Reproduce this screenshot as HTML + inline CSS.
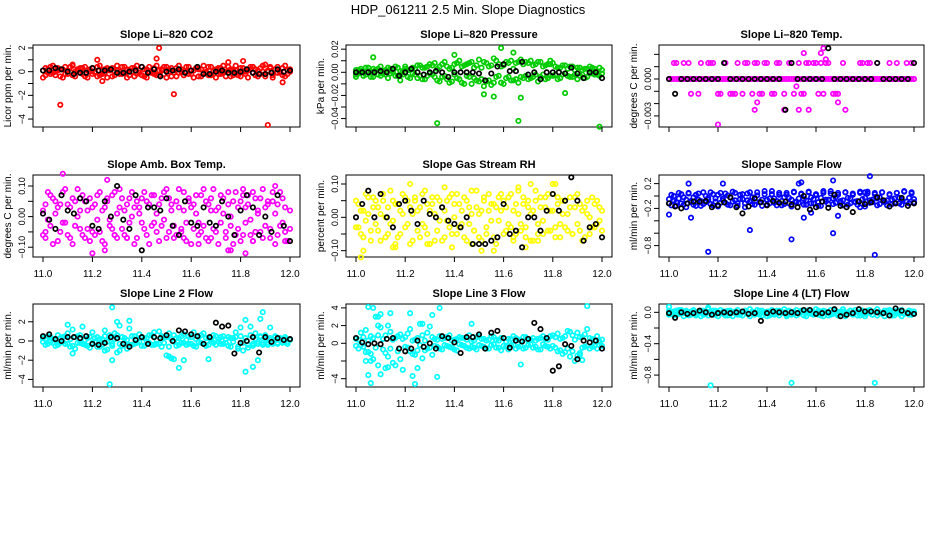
<!DOCTYPE html>
<html><head><meta charset="utf-8"><style>
html,body{margin:0;padding:0;background:#fff;}
svg{display:block;font-family:"Liberation Sans",sans-serif;}
</style></head><body>
<svg id="chart" width="936" height="540" viewBox="0 0 936 540">
<text x="468" y="14" text-anchor="middle" font-size="13">HDP_061211  2.5 Min. Slope Diagnostics</text>
</svg>
<script>
// ---- data (x is hour index 11.0 to 12.0) ----
const xTicks = [11.0, 11.2, 11.4, 11.6, 11.8, 12.0];
const xTickLabels = ["11.0", "11.2", "11.4", "11.6", "11.8", "12.0"];

const co2A = [.1,-.3,.2,.4,-.1,0,.3,-.4,.2,-.2,.1,.4,-.3,0,.2,-.1,.3,-.4,.1,.2,-.2,0,.4,-.3,.1,-.1,.3,.2,-.4,0,.1,-.2,.4,-.1,.2,-.3,0,.3,-.2,.1,.4,-.4,.2,0,-.1,.3,-.3,.1,.2,-.2,.4,0,-.4,.1,.3,-.1,.2,-.3,0,.4,-.2,.1,.3,-.4,.2,-.1,0,.4,-.3,.1,.2,-.2,.3,-.1,0,.4,-.4,.2,.1,-.3,.3,0,-.2,.1,.4,-.1,.2,-.4,.3,0,-.2,.1,.4,-.3,.2,-.1,0,.3,-.4,.1,.2];
const co2B = [-.5,.3,-.1,-.2,.5,-.3,.1,.2,-.5,.4,-.2,0,.5,-.4,.1,.3,-.2,.4,-.5,0,.3,-.1,-.4,.5,-.2,.2,-.5,.1,.3,-.3,.5,0,-.2,.4,-.5,.1,.3,-.4,.5,-.1,-.3,.2,-.5,.4,0,-.2,.5,-.3,.1,.4,-.5,.2,.3,-.1,-.4,.5,0,-.3,.4,-.2,.1,-.5,.3,.2,-.4,.5,-.1,-.3,.4,0,-.5,.3,-.2,.5,-.4,.1,.2,-.3,.5,-.1,-.4,.3,0,-.5,.2,.4,-.3,.1,-.2,.5,-.4,0,.3,-.5,.2,.4,-.1,-.3,.5,-.2,0];
const co2OutX = [11.07,11.46,11.47,11.53,11.91,11.22,11.12,11.90,11.81,11.97,11.75,11.24];
const co2OutY = [-2.8,1.1,2.0,-1.9,-4.5,1.0,0.6,0.6,0.9,-0.9,0.8,-0.8];
const co2Blk = [.1,.1,.3,.2,0,-.2,-.1,-.1,.3,.1,.1,.2,-.1,-.1,0,.1,.4,-.1,.2,-.4,0,.1,.2,-.1,.1,.4,-.2,-.2,0,.1,-.1,-.1,0,.2,-.1,-.2,-.2,-.1,.2,0,.1];

const presA = [-.002,.002,.001,-.003,.004,0,-.004,.003,.001,-.002,.005,-.001,.002,-.005,.003,0,-.003,.004,-.002,.001,.005,-.004,.002,-.001,.003,-.005,.006,-.006,.004,-.003,.007,-.002,.008,-.007,.005,-.004,.009,-.006,.003,-.008,.007,-.005,.01,-.009,.006,-.003,.008,-.01,.004,-.007,.011,-.006,.009,-.008,.005,-.011,.012,-.004,.007,-.009,.006,-.005,.008,-.007,.003,-.006,.009,-.004,.007,-.003,.008,-.005,.006,-.002,.009,-.004,.005,-.006,.007,-.003,.008,-.002,.004,-.005,.006,-.001,.003,-.004,.005,-.002,.004,-.003,.002,-.005,.003,-.001,.004,-.002,.001,-.003,.002];
const presB = [.002,-.001,.003,.001,-.002,.004,.001,-.004,.002,.003,-.003,.001,-.002,.004,-.001,.002,.005,-.003,.001,-.002,.003,.002,-.005,.004,-.002,.006,-.003,.004,-.006,.005,-.001,.006,-.004,.003,-.008,.007,-.003,.005,-.009,.004,-.002,.008,-.006,.005,-.01,.007,-.004,.009,-.005,.006,-.008,.004,-.012,.008,-.007,.006,-.009,.01,-.003,.005,-.01,.009,-.004,.01,-.007,.008,-.009,.011,-.005,.009,-.006,.01,-.004,.007,-.008,.009,-.002,.006,-.005,.007,-.003,.005,-.006,.004,-.002,.006,-.003,.005,-.004,.002,-.006,.004,-.002,.003,-.004,.005,-.001,.003,-.002,.004,-.001];
const presOutX = [11.0,11.07,11.33,11.66,11.59,11.52,11.56,11.67,11.99,11.85,11.40,11.79,11.02,11.18,11.64];
const presOutY = [-.004,.013,-.044,-.042,.021,-.019,-.021,-.022,-.047,-.018,.015,.010,.0,-.007,.017];
const presBlk = [0,0,0,0,.001,0,.003,-.003,0,.003,0,-.002,0,.001,0,-.004,0,0,0,0,-.001,-.007,-.001,.005,.007,.001,.001,.009,-.002,0,-.006,0,0,0,-.001,.004,-.001,-.005,0,0,-.005];

const tempA = [0,0,0,0,0,0,0,0,0,0,0,0,0,0,0,0,0,0,0,0,0,0,0,0,0,0,0,0,0,0,0,0,0,0,0,0,0,0,0,0,0,0,0,0,0,0,0,0,0,0,0,0,0,0,0,0,0,0,0,0,0,0,0,0,0,0,0,0,0,0,0,0,0,0,0,0,0,0,0,0,0,0,0,0,0,0,0,0,0,0,0,0,0,0,0,0,0,0,0,0,0];
const tempB = [0,0,.0013,.0013,0,0,.0013,0,.0013,-.0012,0,0,-.0012,.0013,0,0,.0013,.0013,.0013,0,-.0012,-.0012,0,.0013,0,-.0012,-.0012,-.0012,.0013,0,-.0012,.0013,.0013,0,-.0012,.0013,.0013,-.0012,-.0012,.0013,.0013,0,-.0012,-.0012,.0013,.0013,0,-.0012,0,.0013,.0013,-.0012,0,.0013,-.0012,-.0012,.0013,.0013,0,.0013,.0013,-.0012,.0013,-.0012,.0013,.0013,0,-.0012,-.0012,-.0012,0,.0013,0,0,0,0,0,0,.0013,.0013,0,.0013,.0013,0,0,.0013,0,0,0,0,.0013,0,0,.0013,0,0,0,.0013,0,.0013,0];
const tempOutX = [11.20,11.35,11.36,11.47,11.53,11.55,11.57,11.62,11.63,11.69,11.72,11.64,11.52];
const tempOutY = [-.0037,-.0025,-.0019,-.0025,-.0025,.0021,-.0025,.0021,.0025,-.0019,-.0025,.0016,-.0006];
const tempBlk = [0,-.0012,0,0,0,0,0,0,0,.0013,0,0,0,0,0,0,0,0,0,-.0025,.0013,0,0,0,0,0,.0025,0,0,0,0,0,0,0,.0013,0,0,0,0,0,.0013];

const ambA = [.02,-.05,.08,-.03,.06,.01,-.08,.04,-.02,.09,-.06,.03,-.09,.05,.0,-.04,.07,-.07,.02,.06,-.05,.04,-.01,.08,-.08,.03,.05,-.03,.07,-.06,.01,.09,-.04,.02,-.07,.06,.0,-.09,.05,.03,-.02,.08,-.06,.04,-.03,.07,.01,-.08,.06,-.01,.09,-.05,.02,-.07,.05,.03,-.04,.08,-.02,.06,-.09,.04,.01,-.06,.07,-.03,.05,-.08,.02,.09,-.05,.03,-.02,.06,-.07,.04,.0,-.09,.08,-.04,.05,-.06,.03,.07,-.01,-.08,.06,.02,-.05,.09,-.03,.04,-.07,.05,.01,-.06,.08,-.02,.03,-.08,.02];
const ambB = [-.06,.04,-.01,.07,-.09,.05,.03,-.05,.08,-.02,.04,-.07,.06,-.03,.09,.02,-.06,.05,-.04,-.08,.03,-.06,.07,-.05,.02,-.09,.06,-.01,-.04,.08,-.07,.03,.06,-.06,.04,-.02,.08,.03,-.07,.01,.06,-.04,.05,-.09,.07,-.02,-.05,.04,-.03,.08,-.07,.06,.04,-.03,-.06,.09,-.05,.02,-.08,.05,.03,-.04,.07,-.02,-.05,.09,-.07,.04,.06,-.04,.02,-.09,.07,.01,-.05,.08,-.03,.05,-.06,.03,-.08,.07,-.02,.04,-.06,.08,-.05,.01,.06,-.07,.03,.05,-.04,.08,-.09,.04,-.03,.06,-.05,-.08,-.04];
const ambOutX = [11.08,11.20,11.25,11.26,11.29,11.34,11.57,11.63,11.75,11.76,11.81,11.82,11.85,11.94,11.98,11.01,11.68];
const ambOutY = [.14,-.12,-.11,.12,-.06,-.07,-.07,-.09,-.11,-.11,.09,-.12,-.08,.1,-.08,-.07,-.07];
const ambBlk = [.01,-.01,-.04,.07,.02,.01,.06,.05,-.03,-.04,.05,.0,.1,-.01,-.04,.07,-.11,.03,.03,.02,.06,-.03,-.06,.05,-.02,-.03,.03,-.02,-.03,.05,.0,-.06,.02,.07,.03,-.06,.0,-.05,.07,-.03,-.08];

const rhA = [.05,-.03,.02,-.06,.07,.01,-.04,.06,-.02,.03,-.07,.05,.0,-.05,.08,-.01,.04,-.06,.02,.07,-.03,.05,-.08,.01,.06,-.04,.03,-.02,.08,-.05,.02,.04,-.07,.06,-.01,.03,-.06,.05,-.03,.07,.0,-.05,.04,-.02,.06,-.07,.03,.01,-.04,.08,-.06,.02,.05,-.03,.07,-.01,.04,-.08,.06,.02,-.05,.03,-.02,.07,-.06,.04,.01,-.04,.06,-.03,.05,-.07,.02,.08,-.05,.03,-.01,.06,-.04,.02,.07,-.06,.04,-.02,.05,-.03,.01,.06,-.05,.03,.07,-.04,.02,-.06,.05,.0,-.03,.04,-.02,.03,-.04];
const rhB = [-.03,.04,-.05,.02,-.01,.06,-.07,.03,.05,-.04,.01,.07,-.06,.03,-.02,.05,-.08,.04,-.05,.01,.06,-.02,.03,-.07,.05,.02,-.06,.07,-.03,.04,-.08,.06,.01,-.04,.05,-.07,.02,-.01,.06,-.05,.04,.07,-.03,.02,-.06,.05,-.02,.08,-.04,.03,.01,-.07,.06,-.05,.02,.04,-.06,.03,-.01,.07,.05,-.04,.06,-.03,.02,-.05,.08,-.02,.04,-.06,.03,.01,-.07,.05,-.02,.06,-.05,.03,.07,-.04,.02,-.03,.06,-.06,.01,.05,-.04,.03,-.05,.06,-.02,.04,-.07,.03,.01,-.05,.06,-.03,.05,-.01,.02];
const rhOutX = [11.02,11.03,11.15,11.16,11.22,11.29,11.39,11.47,11.51,11.56,11.66,11.69,11.71,11.74,11.80,11.81,11.30,11.36,11.64];
const rhOutY = [-.12,-.1,-.09,-.09,.1,-.08,-.09,-.08,-.1,-.1,.09,-.09,.1,-.07,.1,.1,-.08,.09,-.07];
const rhBlk = [.0,.04,.08,.0,.07,.0,-.03,.04,.05,.02,-.02,.05,.01,.0,.03,-.01,-.02,-.03,.0,-.08,-.08,-.08,-.07,-.06,.04,-.05,-.04,-.09,.0,.0,-.04,.02,.07,.02,.05,.12,.05,-.07,-.03,-.02,-.06];

const flowA = [-.05,-.15,.0,-.1,.05,-.12,-.02,-.18,.04,-.08,-.14,.02,-.06,-.16,.06,-.1,-.03,-.13,.03,-.09,-.17,.05,-.04,-.11,.01,-.15,.07,-.07,-.12,.02,-.05,-.18,.04,-.09,-.02,-.14,.06,-.1,-.16,.03,-.06,-.12,.08,-.04,-.15,.02,-.08,-.13,.05,-.03,-.17,.06,-.09,-.11,.04,-.05,-.14,.07,-.02,-.12,.03,-.1,-.16,.05,-.06,-.13,.08,-.04,-.11,.02,-.08,-.15,.06,-.03,-.12,.04,-.09,-.14,.05,-.05,-.17,.07,-.07,-.1,.03,-.04,-.13,.06,-.08,-.15,.02,-.06,-.11,.05,-.03,-.14,.07,-.09,-.12,.04,-.05];
const flowB = [-.12,.02,-.08,-.16,-.04,.03,-.14,-.06,.05,-.1,-.02,-.16,.04,-.08,-.13,.0,-.06,.06,-.15,-.04,.02,-.11,-.07,.04,-.14,-.02,-.09,.05,-.16,-.05,.03,-.12,-.07,.06,-.13,-.03,.01,-.1,-.06,.08,-.14,-.04,.03,-.11,-.08,.05,-.15,-.02,.02,-.12,-.06,.07,-.1,-.04,.03,-.14,-.07,.06,-.12,-.05,.01,-.16,-.03,.08,-.09,-.06,.04,-.13,-.02,.05,-.11,-.07,.06,-.14,-.04,.02,-.1,-.08,.07,-.13,-.03,.04,-.11,-.06,.05,-.15,-.02,.06,-.1,-.07,.03,-.13,-.04,.05,-.12,-.06,.08,-.09,-.03,.06,-.1];
const flowOutX = [11.16,11.84,11.50,11.33,11.67,11.82,11.67,11.08,11.22,11.54,11.00,11.55,11.09,11.53,11.58,11.78,11.80,11.69];
const flowOutY = [-.9,-.95,-.7,-.55,-.6,.32,.25,.2,.2,.22,-.3,-.35,-.35,.2,-.27,-.18,.06,-.32];
const flowBlk = [-.12,-.17,-.2,-.12,-.09,-.09,-.08,-.18,-.15,-.1,-.02,-.18,-.28,-.17,-.04,-.1,-.15,-.08,-.11,-.09,-.14,-.18,.0,-.22,-.18,-.09,-.19,.02,-.16,-.18,-.26,-.09,-.13,-.1,-.02,-.07,-.17,-.12,-.03,-.16,-.12];

const l2A = [.3,-.4,.5,-.1,.2,-.5,.6,-.2,.4,-.3,.8,-.6,1.2,-.8,.5,-.2,1.5,-.4,.3,-.7,.9,-.1,.4,-.6,.2,1.1,-.9,.6,-.3,.8,-1.2,1.6,-.5,.3,-.8,1.3,-.4,.5,-.2,.7,-.5,.3,-.1,.6,-.4,.9,-.3,1.0,-.6,.4,-1.5,.8,-1.8,.6,-.5,.3,-.2,.7,-.4,.5,-.3,.9,-.6,.4,-.2,.8,-.5,.3,-.1,.6,-.4,.2,-.3,.5,-.2,.4,-.6,.3,.9,-.8,1.4,-1.0,2.2,-.7,1.5,-.5,.8,-.3,.4,-.2,.6,-.4,.3,-.1,.5,-.3,.2,-.2,.4,-.1,.2];
const l2B = [-.1,.2,-.3,.4,-.2,.1,-.4,.3,-.1,.5,-.3,.2,-.5,.4,-.2,.6,-.3,.1,-.5,.4,-.2,.3,-.6,.2,-.4,.5,-.1,.3,-.5,.2,.6,-.3,.4,-.2,.1,-.4,.5,-.3,.2,-.1,.4,-.5,.3,-.2,.6,-.4,.1,-.3,.5,-.2,.4,-.6,.2,-.1,.3,-.4,.5,-.2,.1,-.3,.4,-.5,.2,-.1,.6,-.3,.3,-.4,.2,-.2,.5,-.1,.4,-.3,.2,-.5,.3,-.1,.4,-.6,.5,-.2,.3,-.4,.6,-.3,.2,-.1,.5,-.4,.3,-.2,.1,-.3,.4,-.2,.3,-.1,.2,-.3,.1];
const l2OutX = [11.27,11.28,11.12,11.10,11.35,11.30,11.28,11.53,11.55,11.57,11.51,11.82,11.85,11.87,11.88,11.89,11.67,11.92,11.31,11.25];
const l2OutY = [-4.5,3.5,-1.3,1.7,2.1,2.0,-2.0,-1.9,-2.8,-2.0,-1.6,-3.2,-2.7,-2.0,2.3,3.0,-1.9,1.4,-1.0,-1.0];
const l2Blk = [.5,.7,.2,.0,.4,.4,.3,.5,-.3,-.4,-.2,.4,.3,-.3,-.6,.1,.4,-.3,.4,.3,.6,.0,1.1,1.0,.7,.5,-.3,.4,1.9,1.5,1.6,-1.3,-.2,.0,.4,-1.2,.4,-.1,.3,.1,.2];

const l3A = [.5,-.6,1.2,-.4,1.5,-1.0,.8,-1.8,3.0,-2.5,1.8,-.7,.9,-1.5,1.3,-2.2,.6,-.9,1.0,-3.0,.7,-.5,1.6,-1.2,.4,-.8,2.2,-1.7,.3,-.6,1.9,-1.3,.5,-.4,.8,-.7,.6,-.3,.9,-.5,.4,-.8,.7,-.2,.6,-.5,.9,-.4,.3,-.7,.8,-.3,.5,-.6,.4,-.2,.7,-.5,.3,-.8,.6,-.4,.5,-.2,.8,-.6,.4,-.3,.7,-.5,.3,-.1,.6,-.4,.5,-.7,.8,-.3,.4,-.6,.9,-.5,1.1,-.8,.6,-1.0,1.4,-1.5,.9,-2.0,1.2,-1.1,.7,-.4,1.6,-.6,.5,-.3,.8,-.2,.4];
const l3B = [-.3,.4,-.2,.7,-1.0,.3,-1.2,.6,-.5,.9,-3.5,.5,-1.1,2.0,-.6,.4,-2.5,.8,-1.8,.5,-.4,1.1,-.9,.3,-1.3,.6,-.2,.9,-.8,1.2,-.5,.7,-.3,.4,-.6,.5,-.2,.7,-.4,.3,-.7,.5,-.1,.6,-.3,.4,-.6,.2,-.5,.7,-.2,.5,-.4,.3,-.6,.8,-.1,.4,-.5,.6,-.3,.2,-.7,.5,-.2,.6,-.4,.3,-.6,.7,-.2,.4,-.5,.3,-.7,.6,-.1,.5,-.4,.8,-.3,.7,-.9,.5,-1.2,.8,-.6,1.3,-.9,.4,-1.4,.7,-.5,1.0,-.3,.6,-.4,.3,-.6,.2,-.3];
const l3OutX = [11.05,11.06,11.07,11.09,11.10,11.12,11.14,11.06,11.05,11.24,11.23,11.25,11.22,11.31,11.33,11.34,11.27,11.47,11.67,11.92,11.94,11.91,11.09,11.13,11.04];
const l3OutY = [-3.6,-4.5,4.0,3.0,3.3,-2.8,3.4,-2.0,4.1,-4.6,-3.7,-2.8,3.4,3.2,-3.8,4.0,2.2,2.2,-2.4,-1.9,4.2,-1.3,2.0,-2.7,-2.0];
const l3Blk = [.6,.1,-.1,.0,-.1,.5,.6,-.6,-.9,-.6,.3,-.4,.0,-.6,.8,.6,.1,-1.1,.7,.7,1.0,-.6,1.2,1.4,.6,-.5,.3,.2,.5,2.3,1.6,.6,-3.1,-2.6,-.1,-.3,-1.8,.3,.1,.3,-.6];

const l4A = [.02,-.02,.01,-.03,.03,0,-.01,.02,-.04,.01,.03,-.02,.0,.02,-.03,.01,.04,-.01,.02,-.03,0,.03,-.02,.01,-.04,.02,.0,-.01,.03,-.03,.01,.02,-.02,.04,-.01,0,.03,-.03,.02,-.01,.01,-.04,.03,0,-.02,.02,-.01,.04,-.03,.01,.0,-.02,.03,-.01,.02,-.04,.01,.03,-.02,0,.04,-.03,.01,.02,-.01,-.04,.03,.0,.02,-.02,.01,.04,-.03,.0,.02,-.01,.03,-.04,.01,.02,-.02,.0,.03,-.03,.01,.04,-.01,-.02,.02,.0,.03,-.04,.01,.02,-.02,.03,-.01,.0,.02,-.03,.01];
const l4B = [-.03,.01,-.04,.02,-.02,.03,-.05,0,-.01,-.03,.02,-.04,.01,-.05,.02,-.02,-.04,.0,-.03,.02,-.05,-.01,.01,-.04,.02,-.02,-.05,.01,-.03,.0,-.04,.02,-.01,-.05,.01,-.03,-.02,.02,-.04,.0,-.05,.01,-.02,-.03,.02,-.04,-.01,.0,-.05,.02,-.03,.01,-.04,-.02,.0,.02,-.05,-.01,.01,-.03,-.02,.02,-.04,-.05,.01,.0,-.03,-.02,.02,-.04,-.01,.01,-.05,-.02,.02,-.03,.0,.01,-.04,-.02,-.05,.02,-.01,-.03,.01,-.04,.0,-.02,-.05,.02,-.03,.01,-.04,-.01,.02,-.05,-.02,.0,-.03,.01,-.02];
const l4OutX = [11.17,11.50,11.84,11.16,11.00];
const l4OutY = [-.93,-.9,-.9,.06,.07];
const l4Blk = [-.01,-.07,.0,-.02,-.01,.02,.0,-.03,-.01,.0,-.01,.0,.01,-.02,-.01,-.11,-.01,.01,.0,-.01,.0,-.01,.03,.03,-.02,-.01,.0,.04,-.05,-.03,-.01,.04,.01,.01,.0,-.01,-.04,.05,.02,-.01,-.02];

// ---- layout ----
const colL = [33, 346, 659], colR = [300, 612, 924];
const rowT = [45, 175, 304], rowB = [127, 257, 387];

const panels = [
 {name:'co2', title:'Slope Li\u2013820 CO2', ylab:'Licor ppm per min.', c:0, r:0, color:'#ff0000', A:co2A, B:co2B, ox:co2OutX, oy:co2OutY, blk:co2Blk, lo:-4.67, hi:2.25, ticks:[-4,-3,-2,-1,0,1,2], labs:{'-4':'\u22124','-2':'\u22122','0':'0','2':'2'}},
 {name:'pressure', title:'Slope Li\u2013820 Pressure', ylab:'kPa per min.', c:1, r:0, color:'#00cc00', A:presA, B:presB, ox:presOutX, oy:presOutY, blk:presBlk, lo:-0.0473, hi:0.0236, ticks:[-0.04,-0.03,-0.02,-0.01,0,0.01,0.02], labs:{'-0.04':'\u22120.04','-0.02':'\u22120.02','0':'0.00','0.02':'0.02'}},
 {name:'li820-temp', title:'Slope Li\u2013820 Temp.', ylab:'degrees C per min.', c:2, r:0, color:'#ff00ff', A:tempA, B:tempB, ox:tempOutX, oy:tempOutY, blk:tempBlk, lo:-0.0039, hi:0.00276, ticks:[-0.003,-0.002,-0.001,0,0.001,0.002], labs:{'-0.003':'\u22120.003','0':'0.000'}},
 {name:'amb-box-temp', title:'Slope Amb. Box Temp.', ylab:'degrees C per min.', c:0, r:1, color:'#ff00ff', A:ambA, B:ambB, ox:ambOutX, oy:ambOutY, blk:ambBlk, lo:-0.132, hi:0.136, ticks:[-0.1,-0.05,0,0.05,0.1], labs:{'-0.1':'\u22120.10','0':'0.00','0.1':'0.10'}},
 {name:'gas-stream-rh', title:'Slope Gas Stream RH', ylab:'percent per min.', c:1, r:1, color:'#ffff00', A:rhA, B:rhB, ox:rhOutX, oy:rhOutY, blk:rhBlk, lo:-0.119, hi:0.127, ticks:[-0.1,-0.05,0,0.05,0.1], labs:{'-0.1':'\u22120.10','0':'0.00','0.1':'0.10'}},
 {name:'sample-flow', title:'Slope Sample Flow', ylab:'ml/min per min.', c:2, r:1, color:'#0000ff', A:flowA, B:flowB, ox:flowOutX, oy:flowOutY, blk:flowBlk, lo:-0.984, hi:0.339, ticks:[-0.8,-0.6,-0.4,-0.2,0,0.2], labs:{'-0.8':'\u22120.8','-0.2':'\u22120.2','0.2':'0.2'}},
 {name:'line2-flow', title:'Slope Line 2 Flow', ylab:'ml/min per min.', c:0, r:2, color:'#00ffff', A:l2A, B:l2B, ox:l2OutX, oy:l2OutY, blk:l2Blk, lo:-4.79, hi:3.85, ticks:[-4,-2,0,2], labs:{'-4':'\u22124','-2':'\u22122','0':'0','2':'2'}},
 {name:'line3-flow', title:'Slope Line 3 Flow', ylab:'ml/min per min.', c:1, r:2, color:'#00ffff', A:l3A, B:l3B, ox:l3OutX, oy:l3OutY, blk:l3Blk, lo:-4.94, hi:4.44, ticks:[-4,-2,0,2,4], labs:{'-4':'\u22124','0':'0','2':'2','4':'4'}},
 {name:'line4-flow', title:'Slope Line 4 (LT) Flow', ylab:'ml/min per min.', c:2, r:2, color:'#00ffff', A:l4A, B:l4B, ox:l4OutX, oy:l4OutY, blk:l4Blk, lo:-0.952, hi:0.106, ticks:[-0.8,-0.6,-0.4,-0.2,0], labs:{'-0.8':'\u22120.8','-0.4':'\u22120.4','0':'0.0'}}
];

const NS = 'http://www.w3.org/2000/svg';
const svg = document.getElementById('chart');
function mk(tag, attrs, parent){
  const e = document.createElementNS(NS, tag);
  for (const k in attrs) e.setAttribute(k, attrs[k]);
  (parent || svg).appendChild(e);
  return e;
}

panels.forEach(p => {
  const L = colL[p.c], R = colR[p.c], T = rowT[p.r], B = rowB[p.r];
  const xs = v => (L + 10) + (v - 11) * (R - L - 20);
  const ys = v => B - (v - p.lo) / (p.hi - p.lo) * (B - T);
  const g = mk('g', {});
  
  

  const title = mk('text', {x:(L+R)/2, y:T-7, 'text-anchor':'middle', 'font-size':'11', 'font-weight':'bold'}, g);
  title.textContent = p.title;
  
  

  const box = mk('rect', {x:L, y:T, width:R-L, height:B-T, fill:'none', stroke:'#000', 'stroke-width':'1'}, g);
  
  

  const pts = mk('g', {fill:'none', 'stroke-width':'1.7'}, g);
  
  
  const dot = (x, y, col, nm) => {
    const c = mk('circle', {cx:xs(x).toFixed(1), cy:ys(y).toFixed(1), r:'2.2', stroke:col}, pts);
    
    
  };
  [p.A, p.B].forEach(arr => arr.forEach((v, i) => dot(11 + i / (arr.length - 1), v, p.color, p.name + '-point')));
  p.ox.forEach((x, i) => dot(x, p.oy[i], p.color, p.name + '-outlier'));
  p.blk.forEach((v, i) => dot(11 + i / (p.blk.length - 1), v, '#000', p.name + '-avg-point'));

  // y axis
  p.ticks.forEach(t => {
    const y = ys(t);
    mk('line', {x1:L-5, x2:L, y1:y, y2:y, stroke:'#000'}, g);
    const lab = p.labs[String(t)];
    if (lab) {
      const tx = mk('text', {x:L-8, y:y, 'text-anchor':'middle', 'font-size':'9', transform:`rotate(-90 ${L-8} ${y})`}, g);
      tx.textContent = lab;
      
      
    }
  });
  const yl = mk('text', {x:L-22, y:(T+B)/2, 'text-anchor':'middle', 'font-size':'10', transform:`rotate(-90 ${L-22} ${(T+B)/2})`}, g);
  yl.textContent = p.ylab;
  
  

  // x axis
  xTicks.forEach((t, i) => {
    const x = xs(t);
    mk('line', {x1:x, x2:x, y1:B, y2:B+5, stroke:'#000'}, g);
    if (p.r > 0) {
      const tx = mk('text', {x:x, y:B+20, 'text-anchor':'middle', 'font-size':'10'}, g);
      tx.textContent = xTickLabels[i];
      
      
    }
  });
});
</script>
</body></html>
